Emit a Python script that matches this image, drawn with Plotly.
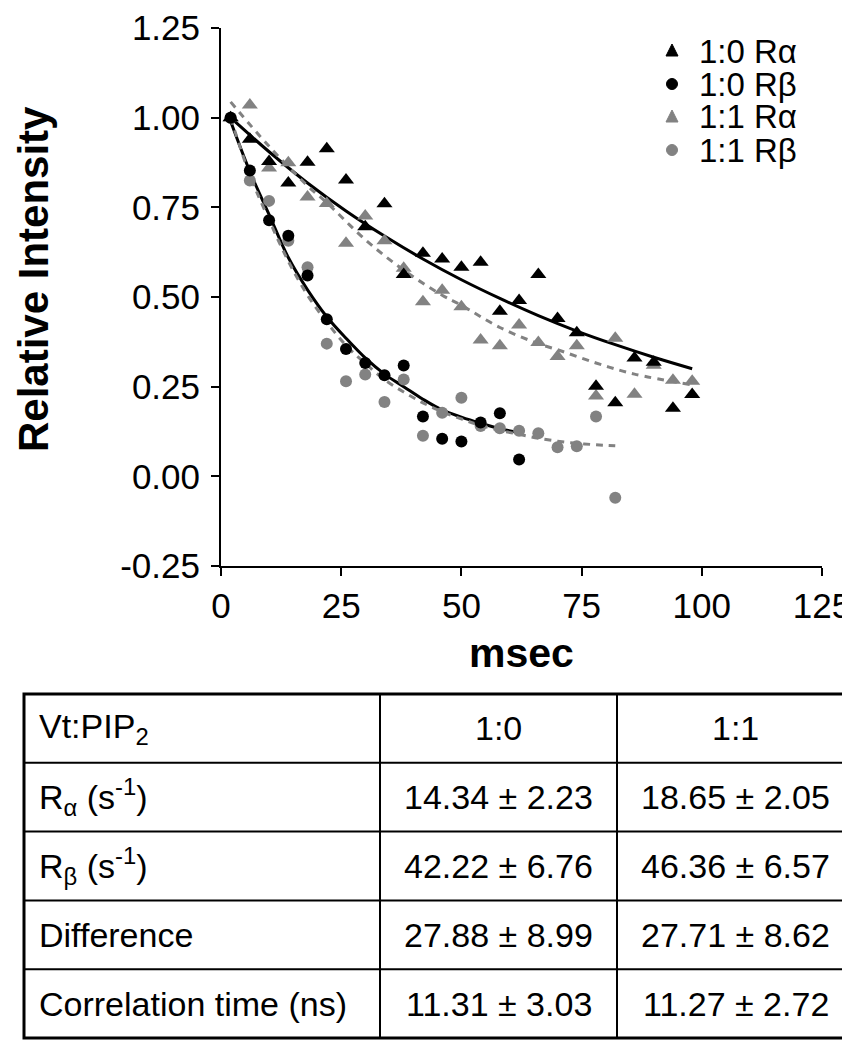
import plotly.graph_objects as go

# ---------------- data ----------------
x_ra10 = [2, 6, 10, 14, 18, 22, 26, 30, 34, 38, 42, 46, 50, 54, 58, 62, 66, 70, 74, 78, 82, 86, 90, 94, 98]
y_ra10 = [1.00, 0.94, 0.878, 0.818, 0.876, 0.913, 0.826, 0.696, 0.76, 0.563, 0.622, 0.606, 0.583, 0.597,
          0.46, 0.49, 0.563, 0.44, 0.40, 0.251, 0.205, 0.33, 0.318, 0.19, 0.228]

x_rb10 = [2, 6, 10, 14, 18, 22, 26, 30, 34, 38, 42, 46, 50, 54, 58, 62]
y_rb10 = [1.00, 0.853, 0.714, 0.671, 0.56, 0.438, 0.355, 0.316, 0.282, 0.309, 0.167, 0.105, 0.097, 0.15,
          0.176, 0.047]

x_ra11 = [2, 6, 10, 14, 18, 22, 26, 30, 34, 38, 42, 46, 50, 54, 58, 62, 66, 70, 74, 78, 82, 86, 90, 94, 98]
y_ra11 = [1.00, 1.035, 0.86, 0.874, 0.779, 0.761, 0.65, 0.726, 0.657, 0.58, 0.487, 0.519, 0.473, 0.38,
          0.364, 0.422, 0.373, 0.334, 0.364, 0.224, 0.385, 0.229, 0.31, 0.268, 0.265]

x_rb11 = [2, 6, 10, 14, 18, 22, 26, 30, 34, 38, 42, 46, 50, 54, 58, 62, 66, 70, 74, 78, 82]
y_rb11 = [1.00, 0.825, 0.768, 0.657, 0.583, 0.37, 0.265, 0.284, 0.207, 0.27, 0.113, 0.177, 0.219, 0.14,
          0.134, 0.127, 0.12, 0.081, 0.084, 0.167, -0.06]

# fitted curves
fx_ra10 = [2, 10, 18, 26, 34, 42, 50, 58, 66, 74, 82, 90, 98]
fy_ra10 = [1.000, 0.905, 0.818, 0.740, 0.670, 0.606, 0.548, 0.496, 0.448, 0.405, 0.367, 0.332, 0.300]

fx_rb10 = [2, 6, 10, 14, 18, 22, 26, 30, 34, 38, 42, 46, 50, 54, 58, 62]
fy_rb10 = [0.99, 0.85, 0.73, 0.61, 0.52, 0.445, 0.385, 0.33, 0.285, 0.25, 0.215, 0.185, 0.165, 0.148,
           0.133, 0.122]

fx_ra11 = [2, 10, 18, 22, 30, 38, 46, 50, 58, 66, 70, 78, 86, 98]
fy_ra11 = [1.044, 0.92, 0.81, 0.763, 0.66, 0.575, 0.505, 0.477, 0.415, 0.37, 0.353, 0.316, 0.285, 0.255]

fx_rb11 = [2, 6, 10, 14, 18, 22, 26, 30, 34, 38, 42, 46, 50, 54, 58, 62, 66, 70, 74, 78, 82]
fy_rb11 = [1.0, 0.84, 0.715, 0.6, 0.505, 0.43, 0.365, 0.315, 0.27, 0.235, 0.205, 0.18, 0.16, 0.142,
           0.128, 0.117, 0.106, 0.098, 0.092, 0.088, 0.085]

series_names = ["1:0 R\u03b1", "1:0 R\u03b2", "1:1 R\u03b1", "1:1 R\u03b2"]

x_ticks = [0, 25, 50, 75, 100, 125]
y_ticks = [-0.25, 0.0, 0.25, 0.5, 0.75, 1.0, 1.25]
y_ticktext = ["-0.25", "0.00", "0.25", "0.50", "0.75", "1.00", "1.25"]

table_header = ["Vt:PIP<sub>2</sub>", "1:0", "1:1"]
table_rows = [
    ["R<sub>\u03b1</sub> (s<sup>-1</sup>)", "14.34 \u00b1 2.23", "18.65 \u00b1 2.05"],
    ["R<sub>\u03b2</sub> (s<sup>-1</sup>)", "42.22 \u00b1 6.76", "46.36 \u00b1 6.57"],
    ["Difference", "27.88 \u00b1 8.99", "27.71 \u00b1 8.62"],
    ["Correlation time (ns)", "11.31 \u00b1 3.03", "11.27 \u00b1 2.72"],
]

# ---------------- figure ----------------
W, H = 850, 1050
PL, PR = 213, 814          # plot area left / right in px
PT, PB = 20, 558           # plot area top / bottom in px
BLACK = "#000000"
GRAY = "#828282"
FONT = "Liberation Sans, Arial, sans-serif"


def px(xp):
    return (xp - PL) / (PR - PL)


def py(yp):
    return 1 - yp / H


fig = go.Figure()

# fit lines
fig.add_trace(go.Scatter(x=fx_ra10, y=fy_ra10, mode="lines", line=dict(color=BLACK, width=3, shape="spline"),
                         showlegend=False, hoverinfo="skip"))
fig.add_trace(go.Scatter(x=fx_rb10, y=fy_rb10, mode="lines", line=dict(color=BLACK, width=3, shape="spline"),
                         showlegend=False, hoverinfo="skip"))
fig.add_trace(go.Scatter(x=fx_ra11, y=fy_ra11, mode="lines",
                         line=dict(color=GRAY, width=3, dash="7px,6px", shape="spline"),
                         showlegend=False, hoverinfo="skip"))
fig.add_trace(go.Scatter(x=fx_rb11, y=fy_rb11, mode="lines",
                         line=dict(color=GRAY, width=3, dash="7px,6px", shape="spline"),
                         showlegend=False, hoverinfo="skip"))

# points
fig.add_trace(go.Scatter(x=x_ra11, y=y_ra11, mode="markers", name=series_names[2], showlegend=False,
                         marker=dict(symbol="triangle-up", size=14, color=GRAY)))
fig.add_trace(go.Scatter(x=x_rb11, y=y_rb11, mode="markers", name=series_names[3], showlegend=False,
                         marker=dict(symbol="circle", size=12, color=GRAY)))
fig.add_trace(go.Scatter(x=x_ra10, y=y_ra10, mode="markers", name=series_names[0], showlegend=False,
                         marker=dict(symbol="triangle-up", size=14, color=BLACK)))
fig.add_trace(go.Scatter(x=x_rb10, y=y_rb10, mode="markers", name=series_names[1], showlegend=False,
                         marker=dict(symbol="circle", size=12, color=BLACK)))

TICKFS = 35
TITLEFS = 42
fig.update_layout(
    width=W, height=H,
    margin=dict(l=PL, r=W - PR, t=0, b=0, autoexpand=False),
    paper_bgcolor="white", plot_bgcolor="white",
    font=dict(family=FONT, color=BLACK),
    showlegend=False,
    xaxis=dict(range=[0, 125], tickvals=x_ticks, showgrid=False, zeroline=False, automargin=False,
               showline=True, linecolor=BLACK, linewidth=2, ticks="outside", ticklen=8,
               tickwidth=2, tickcolor=BLACK, tickfont=dict(size=TICKFS, family=FONT),
               ticklabeloverflow="allow", anchor="y"),
    yaxis=dict(range=[-0.25, 1.25], tickvals=y_ticks, ticktext=y_ticktext, showgrid=False,
               zeroline=False, showline=True, linecolor=BLACK, linewidth=2, ticks="outside",
               ticklen=8, tickwidth=2, tickcolor=BLACK, tickfont=dict(size=TICKFS, family=FONT),
               ticklabeloverflow="allow", automargin=False, ticklabelstandoff=4,
               domain=[1 - PB / H, 1 - PT / H]),
)

# axis titles
fig.add_annotation(xref="paper", yref="paper", x=px(25), y=py(271), textangle=-90,
                   text="<b>Relative Intensity</b>", showarrow=False, xanchor="center", yanchor="middle",
                   font=dict(size=TITLEFS, family=FONT, color=BLACK))
fig.add_annotation(xref="paper", yref="paper", x=px((PL + PR) / 2), y=py(645),
                   text="<b>msec</b>", showarrow=False, xanchor="center", yanchor="middle",
                   font=dict(size=TITLEFS - 1, family=FONT, color=BLACK))

# ---------------- legend (drawn manually for tight spacing) ----------------
shapes = []
LEGFS = 33
leg_rows = [43, 76, 109, 142]
leg_mx, leg_tx = 664, 689
leg_style = [("tri", BLACK), ("circ", BLACK), ("tri", GRAY), ("circ", GRAY)]
for (kind, col), yr, name in zip(leg_style, leg_rows, series_names):
    if kind == "tri":
        path = "M {a},{b} L {c},{d} L {e},{f} Z".format(
            a=px(leg_mx - 6), b=py(yr + 5), c=px(leg_mx + 6), d=py(yr + 5), e=px(leg_mx), f=py(yr - 7))
        shapes.append(dict(type="path", xref="paper", yref="paper", path=path,
                           fillcolor=col, line=dict(color=col, width=1)))
    else:
        shapes.append(dict(type="circle", xref="paper", yref="paper", x0=px(leg_mx - 5.5), x1=px(leg_mx + 5.5),
                           y0=py(yr + 5.5), y1=py(yr - 5.5), fillcolor=col, line=dict(color=col, width=1)))
    fig.add_annotation(xref="paper", yref="paper", x=px(leg_tx), y=py(yr), text=name, showarrow=False,
                       xanchor="left", yanchor="middle", font=dict(size=LEGFS, family=FONT, color=BLACK))

# ---------------- table ----------------
cols = [16, 372, 609, 846]
T0, T1 = 686, 1030
nrow = 5
rows_px = [T0 + (T1 - T0) * k / nrow for k in range(nrow + 1)]

shapes.append(dict(type="rect", xref="paper", yref="paper", x0=px(cols[0]), x1=px(cols[-1]),
                   y0=py(rows_px[0]), y1=py(rows_px[-1]), line=dict(color=BLACK, width=3)))
for r in rows_px[1:-1]:
    shapes.append(dict(type="line", xref="paper", yref="paper", x0=px(cols[0]), x1=px(cols[-1]),
                       y0=py(r), y1=py(r), line=dict(color=BLACK, width=2)))
for c in cols[1:-1]:
    shapes.append(dict(type="line", xref="paper", yref="paper", x0=px(c), x1=px(c),
                       y0=py(rows_px[0]), y1=py(rows_px[-1]), line=dict(color=BLACK, width=2)))
fig.update_layout(shapes=shapes)

all_rows = [table_header] + table_rows
TFS = 34
for i, row in enumerate(all_rows):
    yc = (rows_px[i] + rows_px[i + 1]) / 2
    for j, cell in enumerate(row):
        if j == 0:
            fig.add_annotation(xref="paper", yref="paper", x=px(cols[0] + 13), y=py(yc),
                               xanchor="left", yanchor="middle", text=cell, showarrow=False,
                               font=dict(size=TFS, family=FONT, color=BLACK))
        else:
            fig.add_annotation(xref="paper", yref="paper", x=px((cols[j] + cols[j + 1]) / 2), y=py(yc),
                               xanchor="center", yanchor="middle", text=cell, showarrow=False,
                               font=dict(size=TFS, family=FONT, color=BLACK))

fig.write_html("out.html")
